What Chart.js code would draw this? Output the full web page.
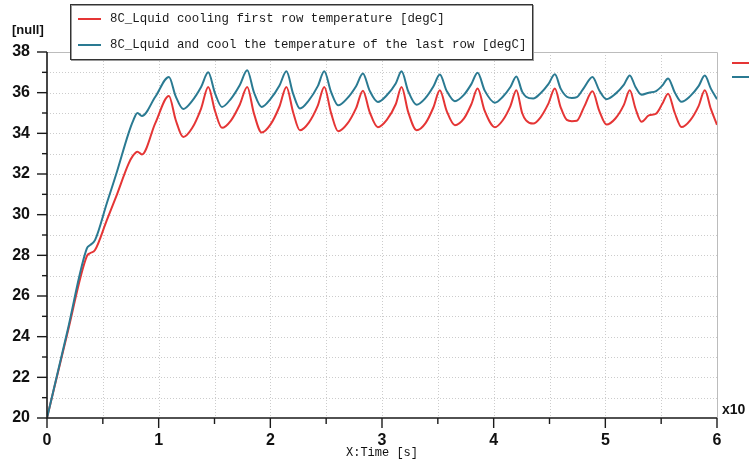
<!DOCTYPE html>
<html>
<head>
<meta charset="utf-8">
<script src="https://cdn.jsdelivr.net/npm/chart.js@4.4.0/dist/chart.umd.min.js"></script>
<style>
html, body { margin: 0; padding: 0; background: #fff; }
canvas { display: block; }
</style>
</head>
<body>
<canvas id="chart" width="749" height="462" style="width:749px;height:462px"></canvas>
<script>
// time in units of 10 s (axis shows x10)
var time = [
    0, 0.18, 0.357, 0.385, 0.43, 0.535, 0.62, 0.73, 0.77, 0.81, 0.85, 0.97, 1.092,
    1.152, 1.22, 1.30, 1.38, 1.444,
    1.504, 1.567, 1.647, 1.727, 1.793,
    1.853, 1.922, 2.002, 2.082, 2.144,
    2.204, 2.265, 2.345, 2.425, 2.483,
    2.543, 2.608, 2.688, 2.768, 2.829,
    2.889, 2.963, 3.043, 3.123, 3.175,
    3.235, 3.31, 3.39, 3.46, 3.518,
    3.578, 3.653, 3.733, 3.80, 3.856,
    3.92, 4.011, 4.08, 4.15, 4.203,
    4.255, 4.29, 4.354, 4.42, 4.49, 4.548,
    4.60, 4.655, 4.70, 4.745, 4.81, 4.885,
    4.945, 5.011, 5.09, 5.165, 5.219,
    5.27, 5.324, 5.39, 5.455, 5.51, 5.562,
    5.622, 5.682, 5.76, 5.835, 5.891,
    5.945, 6.0
];

// last row temperature (teal)
var lastRow = [
    20, 24.2, 28.34, 28.5, 28.75, 30.55, 32.0, 34.0, 34.6, 35.0, 34.85, 35.8, 36.77,
    35.83, 35.2, 35.6, 36.28, 37.0,
    35.98, 35.3, 35.7, 36.38, 37.1,
    36.02, 35.3, 35.69, 36.35, 37.05,
    35.95, 35.22, 35.62, 36.32, 37.05,
    36.05, 35.38, 35.72, 36.32, 36.94,
    36.1, 35.54, 35.87, 36.45, 37.05,
    36.07, 35.41, 35.74, 36.3, 36.89,
    36.1, 35.58, 35.89, 36.42, 36.98,
    36.1, 35.51, 35.79, 36.28, 36.8,
    36.05, 35.8, 35.71, 35.97, 36.42, 36.9,
    36.2, 35.8, 35.74, 35.78, 36.25, 36.77,
    36.12, 35.68, 35.94, 36.38, 36.85,
    36.28, 35.9, 36.0, 36.08, 36.35, 36.7,
    36.01, 35.55, 35.83, 36.32, 36.84,
    36.2, 35.68
];

// first row temperature (red)
var firstRow = [
    20, 24.1, 27.96, 28.1, 28.26, 29.72, 30.9, 32.5, 32.9, 33.1, 32.96, 34.5, 35.84,
    34.67, 33.82, 34.26, 35.22, 36.28,
    35.11, 34.27, 34.63, 35.42, 36.28,
    34.98, 34.04, 34.44, 35.32, 36.28,
    35.04, 34.15, 34.53, 35.36, 36.28,
    35.02, 34.1, 34.46, 35.24, 36.1,
    35.06, 34.3, 34.66, 35.43, 36.28,
    35.04, 34.15, 34.5, 35.27, 36.12,
    35.12, 34.4, 34.72, 35.43, 36.2,
    35.1, 34.3, 34.63, 35.34, 36.12,
    35.0, 34.64, 34.48, 34.79, 35.46, 36.2,
    35.28, 34.66, 34.6, 34.62, 35.3, 36.07,
    35.12, 34.43, 34.73, 35.39, 36.12,
    35.22, 34.57, 34.88, 34.97, 35.45, 35.95,
    35.0, 34.31, 34.64, 35.34, 36.12,
    35.2, 34.42
];

var xLabels = [0, 1, 2, 3, 4, 5, 6];
var yLabels = [20, 22, 24, 26, 28, 30, 32, 34, 36, 38];
var seriesNames = [
    '8C_Lquid cooling first row temperature [degC]',
    '8C_Lquid and cool the temperature of the last row [degC]'
];
var RED = '#e53535';
var TEAL = '#2a7a92';

function points(ys) {
    return time.map(function(t, i) { return { x: t, y: ys[i] }; });
}

var tickFont = { family: "'Liberation Sans Narrow', 'Liberation Sans', Arial, sans-serif", size: 16, weight: 'bold' };

var framePlugin = {
    id: 'frame',
    beforeDraw: function(chart) {
        var ctx = chart.ctx;
        ctx.save();
        ctx.fillStyle = '#fff';
        ctx.fillRect(0, 0, chart.width, chart.height);
        ctx.restore();
    },
    beforeDatasetsDraw: function(chart) {
        var ctx = chart.ctx, a = chart.chartArea;
        var xs = chart.scales.x, ys = chart.scales.y;
        ctx.save();
        // dotted grid
        ctx.strokeStyle = '#cccccc';
        ctx.lineWidth = 1;
        ctx.setLineDash([1, 2]);
        ys.ticks.forEach(function(t) {
            if (t.value <= ys.min || t.value >= ys.max) return;
            var y = Math.round(ys.getPixelForValue(t.value)) + 0.5;
            ctx.beginPath(); ctx.moveTo(a.left, y); ctx.lineTo(a.right, y); ctx.stroke();
        });
        xs.ticks.forEach(function(t) {
            if (t.value <= xs.min || t.value >= xs.max) return;
            var x = Math.round(xs.getPixelForValue(t.value)) + 0.5;
            ctx.beginPath(); ctx.moveTo(x, a.top); ctx.lineTo(x, a.bottom); ctx.stroke();
        });
        ctx.setLineDash([]);
        // light frame top / right
        ctx.strokeStyle = '#bcbcbc';
        ctx.beginPath();
        ctx.moveTo(a.left, a.top + 0.5); ctx.lineTo(a.right + 0.5, a.top + 0.5);
        ctx.lineTo(a.right + 0.5, a.bottom);
        ctx.stroke();
        ctx.restore();
    },
    afterDatasetsDraw: function(chart) {
        var ctx = chart.ctx, a = chart.chartArea;
        var xs = chart.scales.x, ys = chart.scales.y;
        ctx.save();
        ctx.strokeStyle = '#1a1a1a';
        ctx.lineWidth = 1.6;
        ctx.beginPath();
        ctx.moveTo(a.left, a.top); ctx.lineTo(a.left, a.bottom); ctx.lineTo(a.right, a.bottom);
        ctx.stroke();
        ctx.lineWidth = 1.4;
        ys.ticks.forEach(function(t) {
            var y = ys.getPixelForValue(t.value);
            var len = yLabels.indexOf(t.value) >= 0 ? 10 : 5;
            ctx.beginPath(); ctx.moveTo(a.left - len, y); ctx.lineTo(a.left, y); ctx.stroke();
        });
        xs.ticks.forEach(function(t) {
            var x = xs.getPixelForValue(t.value);
            var len = xLabels.indexOf(t.value) >= 0 ? 10 : 6;
            ctx.beginPath(); ctx.moveTo(x, a.bottom); ctx.lineTo(x, a.bottom + len); ctx.stroke();
        });
        ctx.restore();
    },
    afterDraw: function(chart) {
        var ctx = chart.ctx;
        ctx.save();
        // axis captions
        ctx.fillStyle = '#111';
        ctx.font = "bold 13px 'Liberation Sans', Arial, sans-serif";
        ctx.textBaseline = 'middle';
        ctx.textAlign = 'left';
        ctx.fillText('[null]', 12, 30);
        ctx.font = "bold 14px 'Liberation Sans', Arial, sans-serif";
        ctx.fillText('x10', 722, 410);

        // legend box
        ctx.fillStyle = '#fff';
        ctx.fillRect(70, 4, 462, 55);
        ctx.strokeStyle = '#9a9a9a';
        ctx.lineWidth = 1;
        ctx.strokeRect(71.5, 5.5, 462, 55);
        ctx.strokeStyle = '#333';
        ctx.strokeRect(70.5, 4.5, 462, 55);
        var rows = [{ c: RED, y: 19 }, { c: TEAL, y: 45 }];
        ctx.font = "12.4px 'Liberation Mono', 'DejaVu Sans Mono', monospace";
        rows.forEach(function(r, i) {
            ctx.strokeStyle = r.c;
            ctx.lineWidth = 2;
            ctx.beginPath(); ctx.moveTo(78, r.y); ctx.lineTo(101, r.y); ctx.stroke();
            ctx.fillStyle = '#1a1a1a';
            ctx.fillText(seriesNames[i], 110, r.y);
        });

        // cut-off second legend on the right edge
        ctx.lineWidth = 2;
        ctx.strokeStyle = RED;
        ctx.beginPath(); ctx.moveTo(732, 63); ctx.lineTo(749, 63); ctx.stroke();
        ctx.strokeStyle = TEAL;
        ctx.beginPath(); ctx.moveTo(732, 77); ctx.lineTo(749, 77); ctx.stroke();
        ctx.restore();
    }
};

new Chart(document.getElementById('chart').getContext('2d'), {
    type: 'line',
    data: {
        datasets: [
            {
                label: seriesNames[1],
                data: points(lastRow),
                borderColor: TEAL,
                borderWidth: 2,
                pointRadius: 0,
                fill: false,
                cubicInterpolationMode: 'monotone'
            },
            {
                label: seriesNames[0],
                data: points(firstRow),
                borderColor: RED,
                borderWidth: 2,
                pointRadius: 0,
                fill: false,
                cubicInterpolationMode: 'monotone'
            }
        ]
    },
    options: {
        responsive: false,
        animation: false,
        devicePixelRatio: 1,
        layout: { padding: { top: 52, right: 32, left: 0, bottom: 0 } },
        plugins: { legend: { display: false }, tooltip: { enabled: false } },
        scales: {
            x: {
                type: 'linear',
                min: 0,
                max: 6,
                afterFit: function(s) { s.height = 44; },
                grid: { display: false },
                border: { display: false },
                ticks: {
                    stepSize: 0.5,
                    autoSkip: false,
                    maxRotation: 0,
                    padding: 5,
                    color: '#111',
                    font: tickFont,
                    callback: function(v) { return xLabels.indexOf(v) >= 0 ? String(v) : ''; }
                },
                title: {
                    display: true,
                    text: 'X:Time [s]',
                    color: '#111',
                    font: { family: "'Liberation Mono', 'DejaVu Sans Mono', monospace", size: 12 },
                    padding: { top: 0, bottom: 2 }
                }
            },
            y: {
                min: 20,
                max: 38,
                afterFit: function(s) { s.width = 47; },
                grid: { display: false },
                border: { display: false },
                ticks: {
                    stepSize: 1,
                    autoSkip: false,
                    padding: 9,
                    color: '#111',
                    font: tickFont,
                    callback: function(v) { return yLabels.indexOf(v) >= 0 ? String(v) : ''; }
                }
            }
        }
    },
    plugins: [framePlugin]
});
</script>
</body>
</html>
